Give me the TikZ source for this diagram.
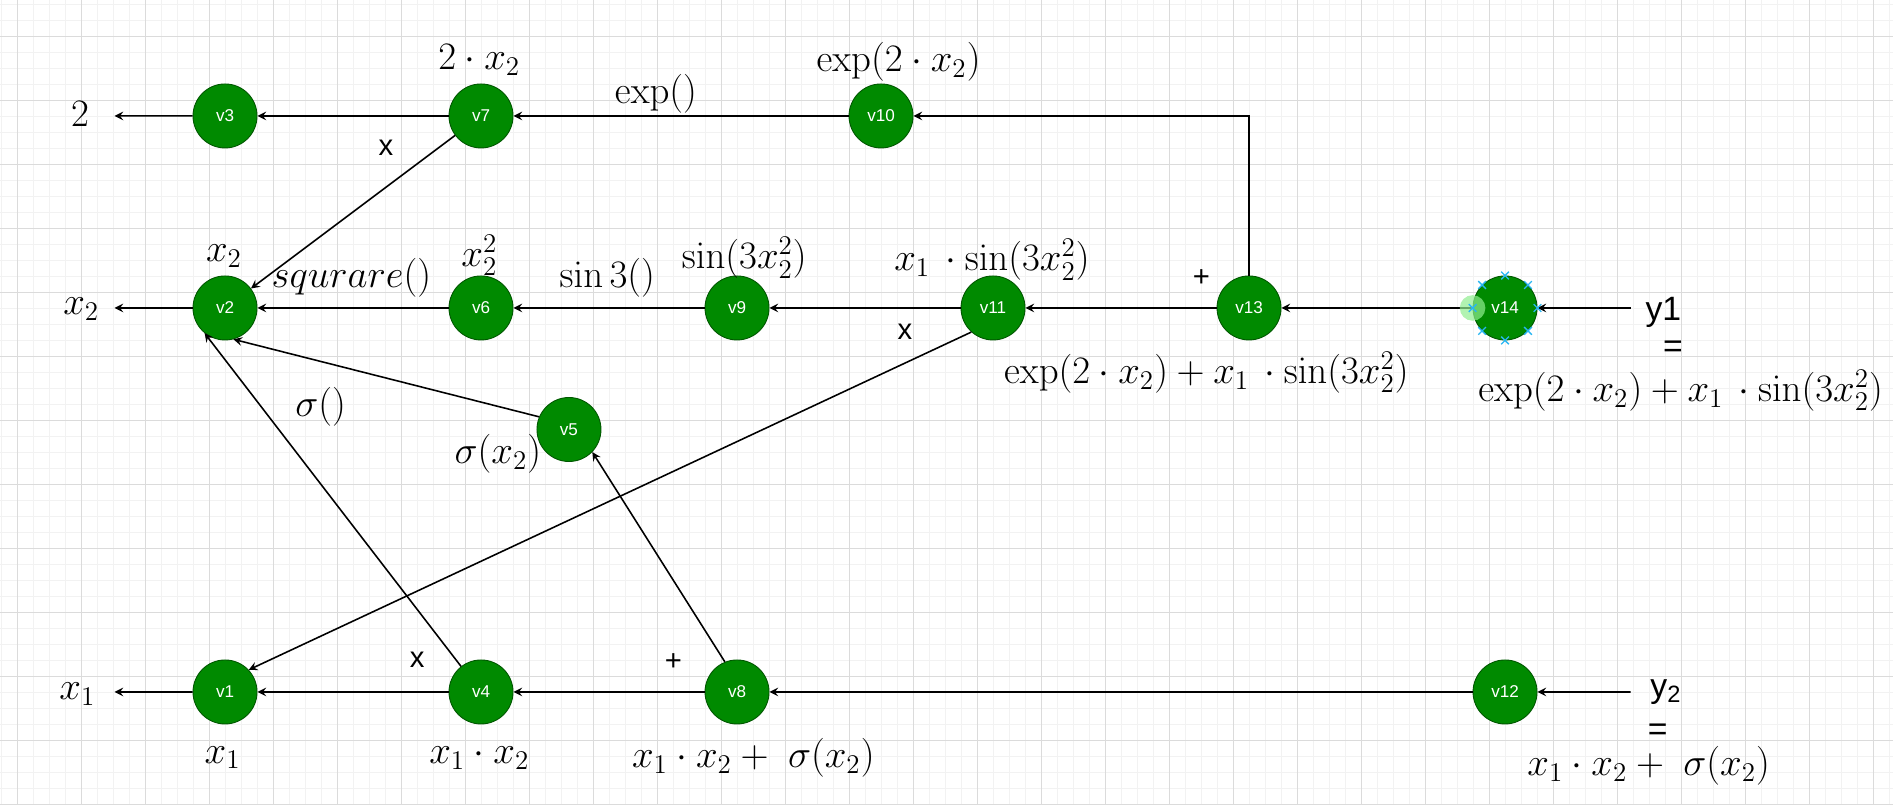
\documentclass[tikz,border=0pt]{standalone}
\usepackage[no-math]{fontspec}
\newfontfamily\helv{Liberation Sans}
\usetikzlibrary{arrows,shapes}

\definecolor{vgreen}{HTML}{008A00}
\definecolor{vborder}{HTML}{005700}
\definecolor{hover}{HTML}{90EE90}
\definecolor{handle}{HTML}{29B6F2}
\newcommand{\sinpar}{\sin\bigl(3x_2^2\bigr)}

\begin{document}
\begin{tikzpicture}[>=stealth,node distance=4cm,
        state/.style={circle,minimum size=1cm,inner sep=0pt,fill=vgreen,draw=vborder,text=white,
          font=\helv\fontsize{7.6}{9}\selectfont},
        val/.style={font=\LARGE,inner sep=1pt},
        op/.style={font=\helv\fontsize{13}{15}\selectfont,inner sep=1pt},
        yout/.style={font=\helv\fontsize{15}{17}\selectfont,inner sep=0pt},
        conn/.style={->,line width=0.7pt},
        handlemark/.style={draw=handle,line width=0.6pt}]
        \useasboundingbox (0,0) rectangle (29.578,12.578);
        % canvas grid
        \begin{scope}
          \clip (0,0) rectangle (29.578,12.578);
          \draw[black!5,line width=0.4pt,shift={(0.2656,0.016)}] (-1,-1) grid[step=0.25] (30,13);
          \draw[black!14,line width=0.4pt,shift={(0.2656,0.016)}] (-1,-1) grid[step=1] (30,13);
        \end{scope}

        \node[state]          (v2) at (3.516,7.766) {v2};
        \node[state]          (v6) [right of=v2]  {v6};
        \node[state]          (v9) [right of=v6]  {v9};
        \node[state]          (v11) [right of=v9]  {v11};
        \node[state]          (v13) [right of=v11]  {v13};
        \node[state]          (v14) [right of=v13]  {v14};
        \node[state]          (v3) [above of=v2,node distance=3cm]  {v3};
        \node[state]          (v7) [above of=v6,node distance=3cm]  {v7};
        \node[state]          (v10) [right of=v7,node distance=6.25cm]  {v10};
        \node[state]          (v1) [below of=v2,node distance=6cm]  {v1};
        \node[state]          (v4) [below of=v6,node distance=6cm]  {v4};
        \node[state]          (v8) [below of=v9,node distance=6cm]  {v8};
        \node[state]          (v12) [below of=v14,node distance=6cm]  {v12};
        \node[state]          (v5) at (8.89,5.867) {v5};

        \coordinate (o3) at (1.79,10.766);
        \coordinate (o2) at (1.79,7.766);
        \coordinate (o1) at (1.79,1.766);
        \coordinate (i1) at (25.48,7.766);
        \coordinate (i2) at (25.48,1.766);

        % values and operations
        \node[val] (l2)  at (1.25,10.80) {$2$};
        \node[val] (lx2) at (1.27,7.75)  {$x_2$};
        \node[val] (lx1) at (1.21,1.73)  {$x_1$};
        \node[val] (t7)  at (7.49,11.64) {$2\cdot x_2$};
        \node[val] (t10) at (14.04,11.61) {$\exp(2\cdot x_2)$};
        \node[val] (fexp) at (10.25,11.12) {$\exp()$};
        \node[op]  (x7)  at (6.03,10.27) {x};
        \node[val] (t2)  at (3.50,8.57)  {$x_2$};
        \node[val] (fsq) at (5.49,8.24)  {$squrare()$};
        \node[val] (t6)  at (7.49,8.59)  {$x_2^2$};
        \node[val] (fsin) at (9.49,8.23) {$\sin 3()$};
        \node[val] (t9)  at (11.63,8.55) {$\sinpar$};
        \node[val] (t11) at (15.50,8.52) {$x_1\,\cdot\sinpar$};
        \node[op]  (x11) at (14.14,7.39) {x};
        \node[op]  (p13) at (18.77,8.24) {+};
        \node[val] (t13) at (18.85,6.76) {$\exp(2\cdot x_2)+x_1\,\cdot\sinpar$};
        \node[yout] (y1) at (25.99,7.70) {y1};
        \node[yout] (e1) at (26.14,7.125) {=};
        \node[val] (ty1) at (26.26,6.48) {$\exp(2\cdot x_2)+x_1\,\cdot\sinpar$};
        \node[val] (fsig) at (5.01,6.22) {$\sigma()$};
        \node[val] (t5)  at (7.78,5.48)  {$\sigma(x_2)$};
        \node[op]  (x4)  at (6.52,2.27)  {x};
        \node[op]  (p8)  at (10.52,2.23) {+};
        \node[val] (t1)  at (3.48,0.74)  {$x_1$};
        \node[val] (t4)  at (7.49,0.74)  {$x_1\cdot x_2$};
        \node[val] (t8)  at (11.77,0.74) {$x_1\cdot x_2+\;\sigma(x_2)$};
        \node[yout] (y2) at (26.03,1.77) {y\textsubscript{2}};
        \node[yout] (e2) at (25.90,1.14) {=};
        \node[val] (ty2) at (25.76,0.61) {$x_1\cdot x_2+\;\sigma(x_2)$};

        \path[conn]
          (v3) edge (o3)
          (v7) edge (v3)
          (v10) edge (v7)
          (v2) edge (o2)
          (v6) edge (v2)
          (v9) edge (v6)
          (v11) edge (v9)
          (v13) edge (v11)
          (v14) edge (v13)
          (i1) edge (v14)
          (v7) edge (v2)
          (v5.157) edge (v2.-75)
          (v4.128) edge (v2.-129)
          (v11.228) edge (v1.43)
          (v8.112) edge (v5.-44)
          (v1) edge (o1)
          (v4) edge (v1)
          (v8) edge (v4)
          (v12) edge (v8)
          (i2) edge (v12);
        \draw[conn] (v13) |- (v10);

        % selected cell
        \fill[hover,opacity=.7] (v14.west) circle (0.2);
        \foreach \a in {0,45,...,315}
          \draw[handlemark] (v14.\a) ++(-.06,-.06) -- ++(.12,.12) ++(0,-.12) -- ++(-.12,.12);
\end{tikzpicture}
\end{document}
